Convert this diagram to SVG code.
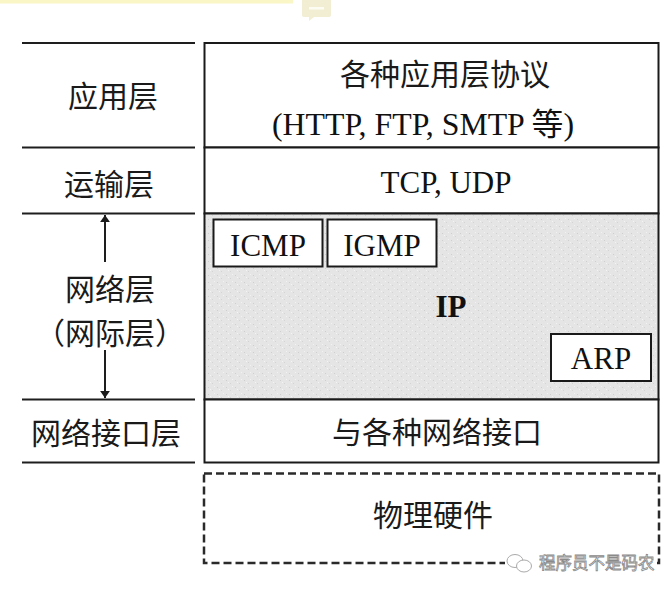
<svg xmlns="http://www.w3.org/2000/svg" width="672" height="596" viewBox="0 0 672 596">
<defs>
<style>
.ln{stroke:#1e1e1e;stroke-width:2;fill:none}
.box{stroke:#1a1a1a;stroke-width:2;fill:#fff}
.cn{font-family:"Noto Sans CJK SC","Noto Sans",sans-serif;font-size:30px;fill:#1a1a1a}
.lt{font-family:"Liberation Serif","Noto Sans CJK SC",serif;font-size:31px;fill:#111}
</style>
<marker id="ah" viewBox="0 0 10 14" refX="10" refY="7" markerWidth="7" markerHeight="10" markerUnits="userSpaceOnUse" orient="auto"><path d="M0,0 L10,7 L0,14 Z" fill="#1a1a1a"/></marker>
<pattern id="noise" width="9" height="7" patternUnits="userSpaceOnUse"><rect width="9" height="7" fill="#e5e5e5"/><rect x="1" y="2" width="1" height="1" fill="#cfcfcf"/><rect x="5" y="5" width="1" height="1" fill="#d4d4d4"/><rect x="7" y="1" width="1" height="1" fill="#f2f2f2"/><rect x="3" y="4" width="1" height="1" fill="#f4f4f4"/></pattern>
</defs>
<rect width="672" height="596" fill="#fff"/>
<rect x="0" y="0" width="293" height="3.5" fill="#fbf6c6"/>
<path d="M302,0 H331 V15 Q331,17 329,17 H314 L309,21 L309,17 H304 Q302,17 302,15 Z" fill="#f1eed3"/>
<rect x="309" y="7" width="15" height="2.5" fill="#fdfcf3"/>

<g id="left-lines">
<line class="ln" x1="22" y1="43" x2="195" y2="43"/>
<line class="ln" x1="22" y1="147.5" x2="195" y2="147.5"/>
<line class="ln" x1="22" y1="213.5" x2="195" y2="213.5"/>
<line class="ln" x1="22" y1="399.5" x2="195" y2="399.5"/>
<line class="ln" x1="22" y1="462.5" x2="195" y2="462.5"/>
</g>

<g id="labels-left">
<text class="cn" x="113" y="107" text-anchor="middle">应用层</text>
<text class="cn" x="109" y="195" text-anchor="middle">运输层</text>
<text class="cn" x="110" y="300" text-anchor="middle">网络层</text>
<text class="cn" x="110" y="344" text-anchor="middle">（网际层）</text>
<text class="cn" x="106" y="444" text-anchor="middle">网络接口层</text>
</g>

<g id="connectors">
<line class="ln" x1="105" y1="262" x2="105" y2="215" marker-end="url(#ah)"/>
<line class="ln" x1="105" y1="350" x2="105" y2="398" marker-end="url(#ah)"/>
</g>

<g id="app-layer">
<rect class="box" x="204.5" y="43" width="454" height="104.5"/>
<text class="cn" x="445" y="85" text-anchor="middle">各种应用层协议</text>
<text class="lt" x="272" y="135" textLength="302" lengthAdjust="spacingAndGlyphs">(HTTP, FTP, SMTP 等)</text>
</g>

<g id="transport-layer">
<rect class="box" x="204.5" y="147.5" width="454" height="66"/>
<text class="lt" x="446" y="193" text-anchor="middle">TCP, UDP</text>
</g>

<g id="network-layer">
<rect x="204.5" y="213.5" width="454" height="186" fill="url(#noise)" stroke="#1a1a1a" stroke-width="2"/>
<text class="lt" x="451" y="317" text-anchor="middle" font-weight="bold">IP</text>
</g>

<g id="icmp">
<rect class="box" x="213.5" y="219.5" width="109" height="47"/>
<text class="lt" x="268" y="256" text-anchor="middle">ICMP</text>
</g>

<g id="igmp">
<rect class="box" x="327.5" y="219.5" width="109" height="47"/>
<text class="lt" x="382" y="256" text-anchor="middle">IGMP</text>
</g>

<g id="arp">
<rect class="box" x="551" y="334" width="100" height="47"/>
<text class="lt" x="601" y="369" text-anchor="middle">ARP</text>
</g>

<g id="interface-layer">
<rect class="box" x="204.5" y="399.5" width="454" height="63"/>
<text class="cn" x="437" y="443" text-anchor="middle">与各种网络接口</text>
</g>

<g id="hardware">
<rect x="204" y="473.5" width="455" height="89.5" fill="none" stroke="#2a2a2a" stroke-width="2.5" stroke-dasharray="8,4"/>
<text class="cn" x="433" y="526" text-anchor="middle">物理硬件</text>
</g>

<g id="watermark">
<rect x="505" y="553" width="152" height="20" fill="#fff"/>
<ellipse cx="515" cy="561" rx="8" ry="6.5" fill="#fff" stroke="#aaa" stroke-width="1"/>
<ellipse cx="524" cy="566" rx="7.5" ry="6" fill="#fff" stroke="#aaa" stroke-width="1"/>
<text x="539" y="569" font-family="'Noto Sans CJK SC',sans-serif" font-size="16.5" fill="#fff" stroke="#8a8a8a" stroke-width="0.8">程序员不是码农</text>
</g>
</svg>
